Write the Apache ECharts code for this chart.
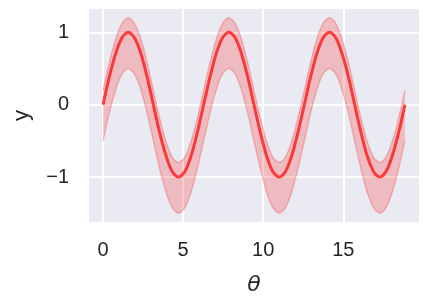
<!DOCTYPE html>
<html>
<head>
<meta charset="utf-8">
<script src="https://cdn.jsdelivr.net/npm/echarts@6/dist/echarts.min.js"></script>
<style>
html,body{margin:0;padding:0;background:#fff;}
#chart{width:427px;height:305px;}
</style>
</head>
<body>
<div id="chart"></div>
<script>
// theta samples (steps of pi/8, 0 .. 6*pi)
var theta = [0, 0.39, 0.79, 1.18, 1.57, 1.96, 2.36, 2.75, 3.14, 3.53, 3.93, 4.32, 4.71, 5.11, 5.50, 5.89,
  6.28, 6.68, 7.07, 7.46, 7.85, 8.25, 8.64, 9.03, 9.42, 9.82, 10.21, 10.60, 11.00, 11.39, 11.78, 12.17,
  12.57, 12.96, 13.35, 13.74, 14.14, 14.53, 14.92, 15.32, 15.71, 16.10, 16.49, 16.89, 17.28, 17.67, 18.06, 18.46,
  18.85];
// central curve y
var yMid = [0, 0.383, 0.707, 0.924, 1, 0.924, 0.707, 0.383, 0, -0.383, -0.707, -0.924, -1, -0.924, -0.707, -0.383,
  0, 0.383, 0.707, 0.924, 1, 0.924, 0.707, 0.383, 0, -0.383, -0.707, -0.924, -1, -0.924, -0.707, -0.383,
  0, 0.383, 0.707, 0.924, 1, 0.924, 0.707, 0.383, 0, -0.383, -0.707, -0.924, -1, -0.924, -0.707, -0.383,
  0];
// band lower edge
var yLower = [-0.5, -0.117, 0.207, 0.424, 0.5, 0.424, 0.207, -0.117, -0.5, -0.883, -1.207, -1.424, -1.5, -1.424, -1.207, -0.883,
  -0.5, -0.117, 0.207, 0.424, 0.5, 0.424, 0.207, -0.117, -0.5, -0.883, -1.207, -1.424, -1.5, -1.424, -1.207, -0.883,
  -0.5, -0.117, 0.207, 0.424, 0.5, 0.424, 0.207, -0.117, -0.5, -0.883, -1.207, -1.424, -1.5, -1.424, -1.207, -0.883,
  -0.5];
// band upper edge
var yUpper = [0.2, 0.583, 0.907, 1.124, 1.2, 1.124, 0.907, 0.583, 0.2, -0.183, -0.507, -0.724, -0.8, -0.724, -0.507, -0.183,
  0.2, 0.583, 0.907, 1.124, 1.2, 1.124, 0.907, 0.583, 0.2, -0.183, -0.507, -0.724, -0.8, -0.724, -0.507, -0.183,
  0.2, 0.583, 0.907, 1.124, 1.2, 1.124, 0.907, 0.583, 0.2, -0.183, -0.507, -0.724, -0.8, -0.724, -0.507, -0.183,
  0.2];

var xName = 'θ';
var yName = 'y';

// value first (dim 0) so that stacking happens on the y value
var lowerData = theta.map(function (t, i) { return [yLower[i], t]; });
var widthData = theta.map(function (t, i) { return [yUpper[i] - yLower[i], t]; });
var midData = theta.map(function (t, i) { return [yMid[i], t]; });

var txt = '#262626';
var fam = '"Liberation Sans", Arial, sans-serif';
var minus = function (v) { return String(v).replace('-', '\u2212'); };

var chart = echarts.init(document.getElementById('chart'), null, {renderer: 'canvas'});
chart.setOption({
  animation: false,
  backgroundColor: '#ffffff',
  grid: {
    left: 88, top: 8, width: 332, height: 215,
    show: true, backgroundColor: '#EAEAF2', borderWidth: 0
  },
  xAxis: {
    type: 'value', min: -0.94, max: 19.79, splitNumber: 4,
    name: xName, nameLocation: 'middle', nameGap: 51,
    nameTextStyle: {color: txt, fontSize: 22, fontStyle: 'italic', fontFamily: '"DejaVu Sans", sans-serif'},
    axisLine: {show: false}, axisTick: {show: false},
    splitLine: {show: true, lineStyle: {color: '#ffffff', width: 2}},
    axisLabel: {color: txt, fontSize: 20, fontFamily: fam, margin: 17, showMinLabel: false, showMaxLabel: false, formatter: minus}
  },
  yAxis: {
    type: 'value', min: -1.635, max: 1.335, splitNumber: 3,
    name: yName, nameLocation: 'middle', nameGap: 55, nameRotate: 90,
    nameTextStyle: {color: txt, fontSize: 22, fontFamily: fam},
    axisLine: {show: false}, axisTick: {show: false},
    splitLine: {show: true, lineStyle: {color: '#ffffff', width: 2}},
    axisLabel: {color: txt, fontSize: 20, fontFamily: fam, margin: 19, showMinLabel: false, showMaxLabel: false, formatter: minus}
  },
  series: [
    {
      type: 'line', data: lowerData, encode: {x: 1, y: 0}, smooth: 0.3, symbol: 'none',
      stack: 'band', stackStrategy: 'all',
      lineStyle: {color: 'rgba(255,0,0,0.22)', width: 1.5},
      silent: true, z: 2
    },
    {
      type: 'line', data: widthData, encode: {x: 1, y: 0}, smooth: 0.3, symbol: 'none',
      stack: 'band', stackStrategy: 'all',
      lineStyle: {color: 'rgba(255,0,0,0.22)', width: 1.5},
      areaStyle: {color: 'rgba(255,0,0,0.2)', opacity: 1},
      silent: true, z: 2
    },
    {
      type: 'line', data: midData, encode: {x: 1, y: 0}, smooth: 0.3, symbol: 'none',
      lineStyle: {color: 'rgba(255,0,0,0.7)', width: 3},
      silent: true, z: 3
    }
  ]
});
</script>
</body>
</html>
